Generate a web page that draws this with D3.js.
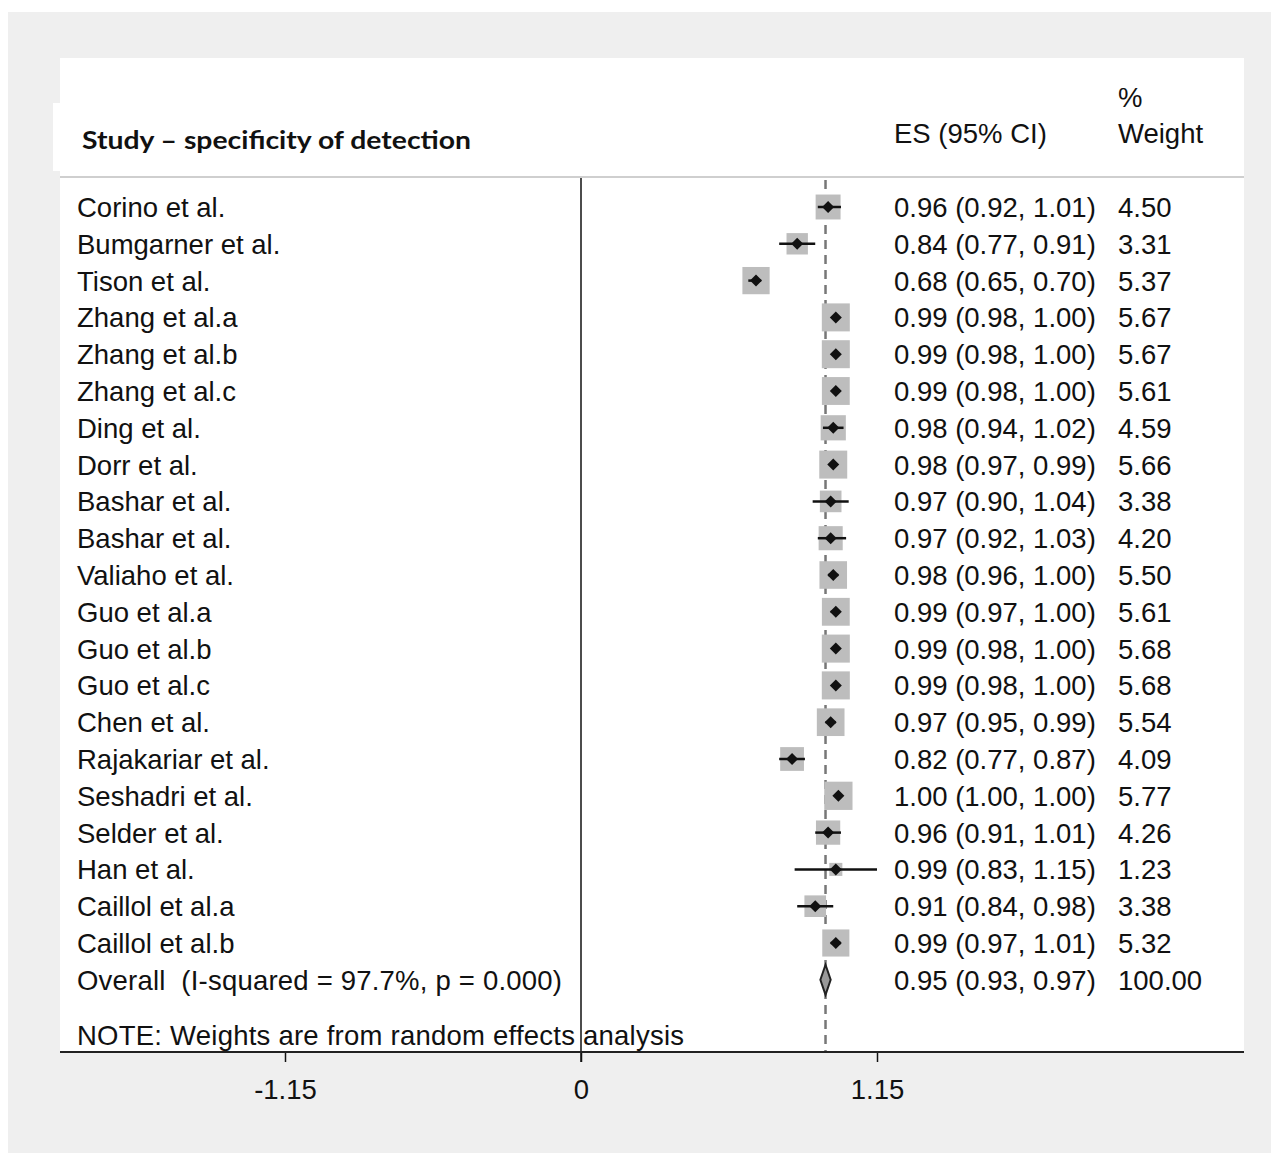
<!DOCTYPE html>
<html>
<head>
<meta charset="utf-8">
<script src="https://cdn.jsdelivr.net/npm/d3@7"></script>
<style>
  body { margin: 0; background: #fff; }
  text { font-family: "Liberation Sans", Arial, sans-serif; fill: #111; font-size: 27.5px; white-space: pre; }
</style>
</head>
<body>
<div id="chart"></div>
<script>
// data
let studies = ["Corino et al.", "Bumgarner et al.", "Tison et al.", "Zhang et al.a", "Zhang et al.b",
  "Zhang et al.c", "Ding et al.", "Dorr et al.", "Bashar et al.", "Bashar et al.", "Valiaho et al.",
  "Guo et al.a", "Guo et al.b", "Guo et al.c", "Chen et al.", "Rajakariar et al.", "Seshadri et al.",
  "Selder et al.", "Han et al.", "Caillol et al.a", "Caillol et al.b"];
let es =     [0.96, 0.84, 0.68, 0.99, 0.99, 0.99, 0.98, 0.98, 0.97, 0.97, 0.98, 0.99, 0.99, 0.99, 0.97, 0.82, 1.00, 0.96, 0.99, 0.91, 0.99];
let lower =  [0.92, 0.77, 0.65, 0.98, 0.98, 0.98, 0.94, 0.97, 0.90, 0.92, 0.96, 0.97, 0.98, 0.98, 0.95, 0.77, 1.00, 0.91, 0.83, 0.84, 0.97];
let upper =  [1.01, 0.91, 0.70, 1.00, 1.00, 1.00, 1.02, 0.99, 1.04, 1.03, 1.00, 1.00, 1.00, 1.00, 0.99, 0.87, 1.00, 1.01, 1.15, 0.98, 1.01];
let weights = [4.50, 3.31, 5.37, 5.67, 5.67, 5.61, 4.59, 5.66, 3.38, 4.20, 5.50, 5.61, 5.68, 5.68, 5.54, 4.09, 5.77, 4.26, 1.23, 3.38, 5.32];
let overall = { label: "Overall  (I-squared = 97.7%, p = 0.000)", es: 0.95, lo: 0.93, hi: 0.97, w: "100.00" };
let ticks = [-1.15, 0, 1.15];
let tickLabels = ["-1.15", "0", "1.15"];

let data = studies.map((s, i) => ({ study: s, es: es[i], lo: lower[i], hi: upper[i], w: weights[i] }));

const W = 1271, H = 1153;
const svg = d3.select("#chart").append("svg").attr("width", W).attr("height", H);

// backgrounds
svg.append("rect").attr("x", 8).attr("y", 12).attr("width", W - 8).attr("height", H - 12).attr("fill", "#efefef");
svg.append("rect").attr("x", 60).attr("y", 58).attr("width", 1184).attr("height", 994).attr("fill", "#fff");
svg.append("rect").attr("x", 53).attr("y", 103).attr("width", 10).attr("height", 68).attr("fill", "#fff");

// scales
const x = d3.scaleLinear().domain([-1.15, 1.15]).range([285, 877]);
const rowY = d3.scaleLinear().domain([0, 20]).range([207, 943]);
const boxSize = d3.scaleSqrt().domain([0, 5.67]).range([0, 28]);
const axisY = 1052;
const base = 10; // text baseline below row centre

// header
svg.append("line").attr("x1", 60).attr("x2", 1244).attr("y1", 177).attr("y2", 177)
  .attr("stroke", "#cfcfcf").attr("stroke-width", 2);
svg.append("text").attr("x", 82).attr("y", 149)
  .style("font-family", "Lato, 'Open Sans', sans-serif").style("font-weight", "bold").style("font-size", "25px")
  .text("Study \u2013 specificity of detection")
  .attr("textLength", 389).attr("lengthAdjust", "spacingAndGlyphs");
svg.append("text").attr("x", 894).attr("y", 143).text("ES (95% CI)");
svg.append("text").attr("x", 1118).attr("y", 107).text("%");
svg.append("text").attr("x", 1118).attr("y", 143).text("Weight");

// zero line
svg.append("line").attr("x1", x(0)).attr("x2", x(0)).attr("y1", 178).attr("y2", axisY + 10)
  .attr("stroke", "#111").attr("stroke-width", 1.5);

// overall dashed line
svg.append("line").attr("x1", x(overall.es)).attr("x2", x(overall.es)).attr("y1", 180).attr("y2", axisY)
  .attr("stroke", "#777").attr("stroke-width", 2.5).attr("stroke-dasharray", "9,6");

// x axis
const xAxis = d3.axisBottom(x).tickValues(ticks).tickFormat((d, i) => tickLabels[i]).tickSize(10).tickSizeOuter(0);
const gx = svg.append("g").attr("transform", `translate(0, ${axisY})`).call(xAxis);
gx.select(".domain").remove();
gx.selectAll(".tick line").attr("stroke", "#111").attr("stroke-width", 1.5);
gx.selectAll(".tick text").attr("dy", 0).attr("y", 47).style("font-size", "27.5px").style("fill", "#111")
  .style("font-family", "'Liberation Sans', Arial, sans-serif");
svg.append("line").attr("x1", 60).attr("x2", 1244).attr("y1", axisY).attr("y2", axisY)
  .attr("stroke", "#222").attr("stroke-width", 2);

// rows
const rows = svg.selectAll(".row").data(data).enter().append("g").attr("class", "row")
  .attr("transform", (d, i) => `translate(0, ${rowY(i)})`);

rows.append("rect")
  .attr("x", d => x(d.es) - boxSize(d.w) / 2)
  .attr("y", d => -boxSize(d.w) / 2)
  .attr("width", d => boxSize(d.w))
  .attr("height", d => boxSize(d.w))
  .attr("fill", "#bdbdbd");

rows.append("line")
  .attr("x1", d => x(d.lo)).attr("x2", d => x(d.hi)).attr("y1", 0).attr("y2", 0)
  .attr("stroke", "#111").attr("stroke-width", 2.5);

rows.append("path")
  .attr("d", d => `M${x(d.es) - 6},0 L${x(d.es)},-6 L${x(d.es) + 6},0 L${x(d.es)},6 Z`)
  .attr("fill", "#111");

rows.append("text").attr("x", 77).attr("y", base).text(d => d.study);
rows.append("text").attr("x", 894).attr("y", base)
  .text(d => `${d.es.toFixed(2)} (${d.lo.toFixed(2)}, ${d.hi.toFixed(2)})`);
rows.append("text").attr("x", 1118).attr("y", base).text(d => d.w.toFixed(2));

// overall row
const oy = rowY(21);
svg.append("path")
  .attr("d", `M${x(overall.lo)},${oy} L${x(overall.es)},${oy - 15} L${x(overall.hi)},${oy} L${x(overall.es)},${oy + 15} Z`)
  .attr("fill", "#9a9a9a").attr("stroke", "#222").attr("stroke-width", 2);
svg.append("text").attr("x", 77).attr("y", oy + base).text(overall.label)
  .attr("textLength", 485).attr("lengthAdjust", "spacing");
svg.append("text").attr("x", 894).attr("y", oy + base)
  .text(`${overall.es.toFixed(2)} (${overall.lo.toFixed(2)}, ${overall.hi.toFixed(2)})`);
svg.append("text").attr("x", 1118).attr("y", oy + base).text(overall.w);

// note
svg.append("text").attr("x", 77).attr("y", 1045).text("NOTE: Weights are from random effects analysis")
  .attr("textLength", 607).attr("lengthAdjust", "spacing");
</script>
</body>
</html>
